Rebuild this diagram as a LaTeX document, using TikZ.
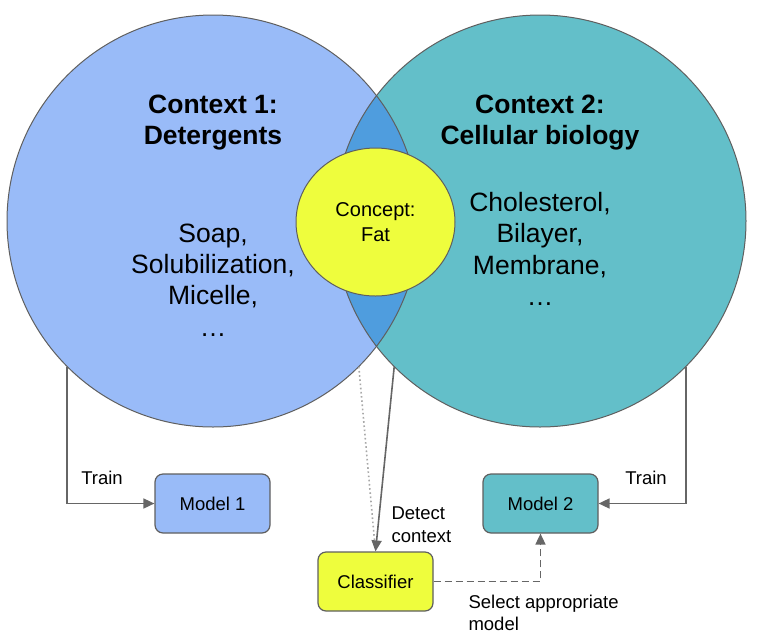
\documentclass[tikz,border=0pt]{standalone}
\usepackage{fontspec}
\setmainfont{Liberation Sans}
\usetikzlibrary{arrows.meta,shapes.geometric}

\definecolor{ctxblue}{HTML}{99BBF8}
\definecolor{ctxteal}{HTML}{63BFC9}
\definecolor{lensblue}{HTML}{4F9DDE}
\definecolor{fatyellow}{HTML}{EEFD3D}
\definecolor{edgegrey}{HTML}{5F5F5F}
\definecolor{arrowgrey}{HTML}{666666}
\definecolor{dotgrey}{HTML}{A8A8A8}

\tikzset{
  ctx/.style={circle, minimum size=412pt, inner sep=0pt},
  edge/.style={draw=edgegrey, line width=1pt},
  box/.style={rounded corners=8pt, draw=edgegrey, line width=1.2pt,
    minimum width=115pt, minimum height=59pt, font=\fontsize{18.5}{22}\selectfont},
  flow/.style={draw=arrowgrey, line width=1.6pt, -{Triangle[length=11pt,width=10pt]}},
  big/.style={font=\fontsize{26.5}{31.3}\selectfont, align=center},
  small/.style={font=\fontsize{18.5}{22.5}\selectfont, align=left},
}

\begin{document}
\begin{tikzpicture}[x=1pt, y=-1pt]
    \useasboundingbox (0, 0) rectangle (761, 641);
    % the two contexts
    \node[ctx, fill=ctxblue] (ctxA) at (213, 221) {};
    \node[ctx, fill=ctxteal] (ctxB) at (540, 221) {};
    \begin{scope}
        \clip (ctxA.center) circle (206pt);
        \fill[lensblue] (ctxB.center) circle (206pt);
    \end{scope}
    \draw[edge] (ctxA.center) circle (206pt);
    \draw[edge] (ctxB.center) circle (206pt);
    \node[big, font=\fontsize{26.5}{31.3}\bfseries] (titleA) at (213, 122.5) {Context 1:\\Detergents};
    \node[big, font=\fontsize{26.5}{31.3}\bfseries] (titleB) at (540, 122.5) {Context 2:\\Cellular biology};
    \node[big] (wordsA) at (213, 280) {Soap,\\Solubilization,\\Micelle,\\…};
    \node[big] (wordsB) at (540, 249) {Cholesterol,\\Bilayer,\\Membrane,\\…};
    % shared concept
    \node[ellipse, edge, fill=fatyellow, minimum width=159pt, minimum height=148pt,
        align=center, font=\fontsize{20}{25}\selectfont] (concept) at (375.5, 222) {Concept:\\Fat};
    % models
    \node[box, fill=ctxblue] (modelA) at (212.5, 503.5) {Model 1};
    \node[box, fill=ctxteal] (modelB) at (540.5, 503.5) {Model 2};
    \node[box, fill=fatyellow] (clf) at (375.5, 581.5) {Classifier};
    \draw[flow] (ctxA.225) |- (modelA);
    \draw[flow] (ctxB.-45) |- (modelB);
    \node[small] (trainA) at (102, 478) {Train};
    \node[small] (trainB) at (646, 478) {Train};
    \draw[dotgrey, line width=1.6pt, dash pattern=on 1.6pt off 2.6pt, shorten >=10pt] (ctxA.-45) -- (clf.north);
    \draw[flow] (ctxB.225) -- (clf.north);
    \node[small, anchor=west] (detect) at (388, 524.5) {Detect\\context};
    \draw[flow, dash pattern=on 7pt off 4pt] (clf.east) -| (modelB.south);
    \node[small, anchor=west] (select) at (465, 613) {Select appropriate\\model};
\end{tikzpicture}
\end{document}
